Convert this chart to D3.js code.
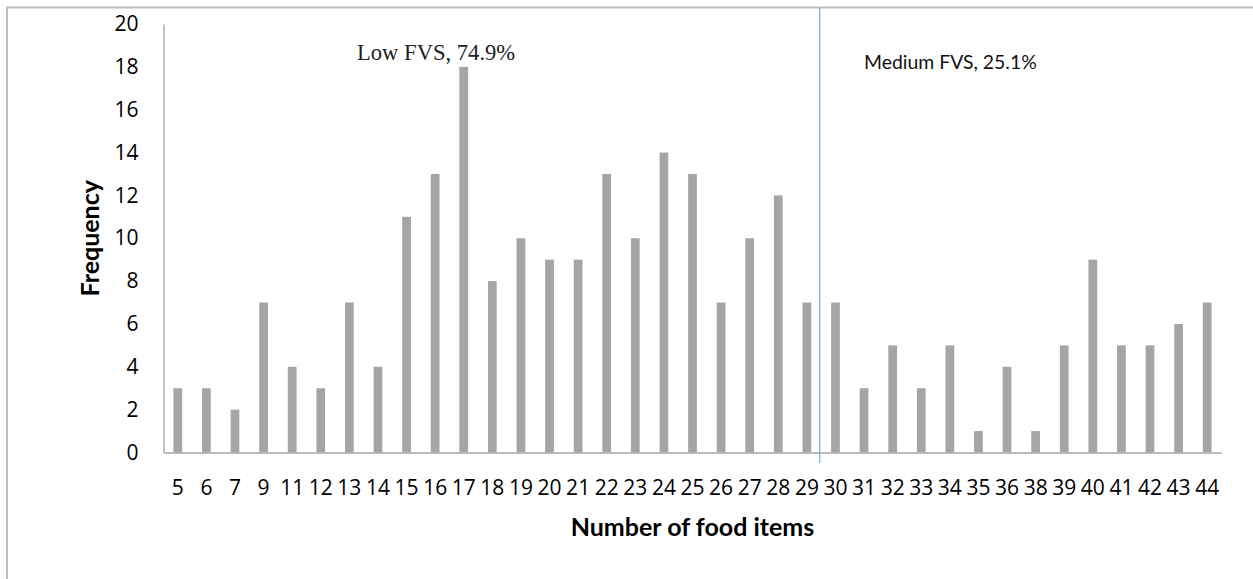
<!DOCTYPE html>
<html><head><meta charset="utf-8">
<script src="https://cdn.jsdelivr.net/npm/d3@7"></script>
<style>body{margin:0;background:#fff} svg{display:block}</style>
</head><body><svg id="c" width="1253" height="579"></svg>
<script>
const categories = ["5","6","7","9","11","12","13","14","15","16","17","18","19","20","21","22","23","24","25","26","27","28","29","30","31","32","33","34","35","36","38","39","40","41","42","43","44"];
const frequencies = [3,3,2,7,4,3,7,4,11,13,18,8,10,9,9,13,10,14,13,7,10,12,7,7,3,5,3,5,1,4,1,5,9,5,5,6,7];
const yTicks = [0,2,4,6,8,10,12,14,16,18,20];
const xTitle = "Number of food items";
const yTitle = "Frequency";
const lowLabel = "Low FVS, 74.9%";
const mediumLabel = "Medium FVS, 25.1%";
const splitCategory = "30";

const svg = d3.select("#c");
const W = 1253, H = 579;
const m = {left: 163.5, right: 1221.5, top: 24, bottom: 452.5};

const x = d3.scaleBand().domain(categories).range([m.left, m.right]).padding(0);
const y = d3.scaleLinear().domain([0, 20]).range([m.bottom, m.top]);

// outer frame
svg.append("path").attr("d", `M7,${H} V7.5 H${W}`).attr("fill","none").attr("stroke","#bdbdbd").attr("stroke-width",2);

// bars
const bw = x.bandwidth() * 0.305;
svg.append("g").selectAll("rect").data(categories).join("rect")
  .attr("x", d => x(d) + (x.bandwidth() - bw) / 2)
  .attr("width", bw)
  .attr("y", (d, i) => y(frequencies[i]))
  .attr("height", (d, i) => y(0) - y(frequencies[i]))
  .attr("fill", "#a5a5a5");

// y axis
const gy = svg.append("g").attr("transform", `translate(${m.left},0)`)
  .call(d3.axisLeft(y).tickValues(yTicks).tickSize(0).tickPadding(25));
gy.select(".domain").attr("stroke", "#a6a6a6").attr("stroke-width", 1.3);
gy.selectAll("text").attr("font-family", "Open Sans").attr("font-size", 21).attr("fill", "#000");

// x axis
const gx = svg.append("g").attr("transform", `translate(0,${m.bottom})`)
  .call(d3.axisBottom(x).tickSize(0).tickSizeOuter(0));
gx.select(".domain").attr("stroke", "#a6a6a6").attr("stroke-width", 1.3);
gx.selectAll("text").attr("font-family", "Open Sans").attr("font-size", 21).attr("fill", "#000")
  .attr("y", 42.5).attr("dy", 0);

// divider line
const splitX = x(splitCategory) - 1.5;
svg.append("line").attr("x1", splitX).attr("x2", splitX).attr("y1", 7).attr("y2", 463)
  .attr("stroke", "#7fb0e0").attr("stroke-width", 1.3);

// axis titles
svg.append("text").attr("x", (m.left + m.right) / 2).attr("y", 536)
  .attr("text-anchor", "middle").attr("font-family", "Lato").attr("font-weight", "bold")
  .attr("font-size", 25).attr("fill", "#000").text(xTitle);
svg.append("text").attr("transform", `translate(99,${(m.top + m.bottom) / 2}) rotate(-90)`)
  .attr("text-anchor", "middle").attr("font-family", "Lato").attr("font-weight", "bold")
  .attr("font-size", 25).attr("fill", "#000").text(yTitle);

// annotations
svg.append("text").attr("x", 357).attr("y", 60)
  .attr("font-family", "Liberation Serif").attr("font-size", 22.6).attr("fill", "#222").text(lowLabel);
svg.append("text").attr("x", 864).attr("y", 69)
  .attr("font-family", "Lato").attr("font-size", 19.4).attr("fill", "#111").text(mediumLabel);
</script>
</body></html>
